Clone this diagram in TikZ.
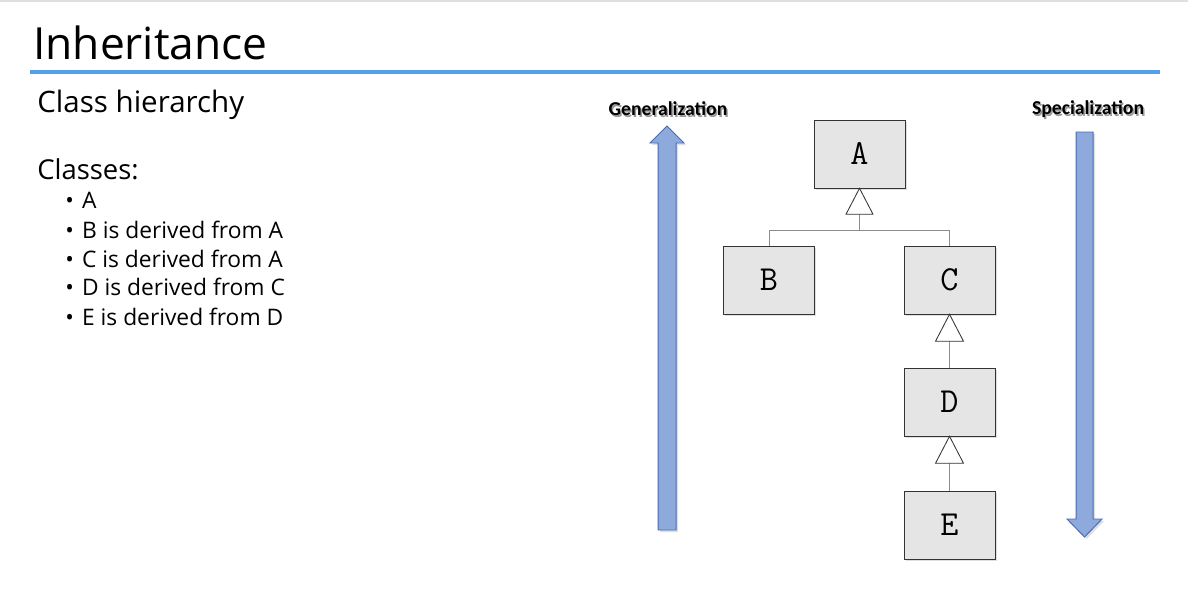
\documentclass[tikz,border=0pt]{standalone}
\usepackage{fontspec}
\setmainfont{Open Sans}
\newfontfamily\labelfont{Carlito}
\usetikzlibrary{shadows}
\definecolor{ruleblue}{RGB}{82,160,236}
\definecolor{arrowfill}{RGB}{142,169,220}
\definecolor{arrowedge}{RGB}{72,108,180}
\begin{document}
\begin{tikzpicture}[x=0.025cm, y=-0.025cm,
  class node/.style={draw=black!80, fill=black!10, minimum width=2.275cm, minimum height=1.7cm, inner sep=0pt, font=\ttfamily\fontsize{25}{25}\selectfont, drop shadow={shadow xshift=1.2pt, shadow yshift=-1.2pt, opacity=0.25}},
  tri node/.style={draw=black!80, fill=white, line width=0.6pt},
  link/.style={draw=black!45, line width=0.7pt},
  big arrow/.style={draw=arrowedge, fill=arrowfill, line width=0.7pt, drop shadow={shadow xshift=1.5pt, shadow yshift=-1.5pt, opacity=0.25}},
  side label/.style={font=\labelfont\bfseries\fontsize{14}{16}\selectfont},
  text line/.style={anchor=base west, inner sep=0pt}]
\useasboundingbox (0,0) rectangle (1188,591);
\draw[black!12, line width=1pt] (0,1) -- (1188,1);
% heading
\node[text line, font=\fontsize{31.5}{36}\selectfont] (title) at (33,60) {Inheritance};
\draw[ruleblue, line width=3.5pt] (30,72) -- (1160,72);
\node[text line, font=\fontsize{21}{24}\selectfont] (sub) at (37,112) {Class hierarchy};
\node[text line, font=\fontsize{19.5}{24}\selectfont] (classes) at (37,179) {Classes:};
\begin{scope}[every node/.style={text line, font=\fontsize{16.2}{18}\selectfont}]
\foreach \y/\txt [count=\i] in {208/A, 238/B is derived from A, 267/C is derived from A, 295.5/D is derived from C, 325/E is derived from D}
  \node (item\i) at (65,\y) {\makebox[12pt][l]{•}\txt};
\end{scope}
% arrows
\draw[big arrow] (658,530) -- (658,143) -- (650,143) -- (667,126) -- (684,143) -- (676,143) -- (676,530) -- cycle;
\draw[big arrow] (1076,132) -- (1076,519) -- (1067,519) -- (1084.5,537) -- (1102,519) -- (1093,519) -- (1093,132) -- cycle;
\node[side label, text=black!40] (gen shadow) at (669.5,111) {Generalization};
\node[side label] (gen) at (668,109) {Generalization};
\node[side label, text=black!40] (spec shadow) at (1089.5,111) {Specialization};
\node[side label] (spec) at (1088,109) {Specialization};
% classes
\node[class node] (A) at (859.5,154) {A};
\node[class node] (B) at (769,280) {B};
\node[class node] (C) at (949.5,280) {C};
\node[class node] (D) at (949.5,402) {D};
\node[class node] (E) at (949.5,525) {E};
\draw[link] (A.south) ++(0,26) -- ++(0,16) -| (B.north);
\draw[link] (A.south) ++(0,42) -| (C.north);
\draw[link] (C.south) ++(0,27) -- (D.north);
\draw[link] (D.south) ++(0,27) -- (E.north);
\draw[tri node] (A.south) -- ++(-13.5,26) -- ++(27,0) -- cycle;
\draw[tri node] (C.south) -- ++(-14,27) -- ++(28,0) -- cycle;
\draw[tri node] (D.south) -- ++(-14,27) -- ++(28,0) -- cycle;
\end{tikzpicture}
\end{document}
